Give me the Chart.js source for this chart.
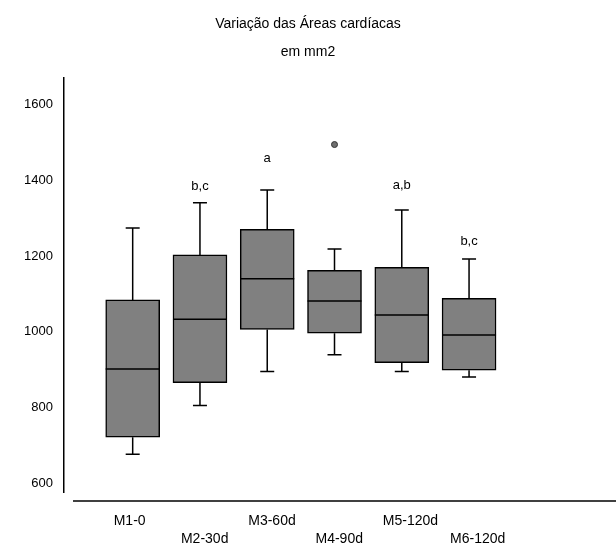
<!DOCTYPE html>
<html lang="pt">

<head>
   <meta charset="UTF-8">
   <title>Variação das Áreas cardíacas</title>
   <script src="https://cdn.jsdelivr.net/npm/chart.js@4.4.0/dist/chart.umd.min.js"></script>
   <style>
      body { margin: 0; background: #fff; }
      .chart-container { width: 616px; height: 545px; }
   </style>
</head>

<body>
   <div class="chart-container">
      <canvas id="myChart"></canvas>
   </div>
   <script>
      // values (mm2)
      const categories = ['M1-0', 'M2-30d', 'M3-60d', 'M4-90d', 'M5-120d', 'M6-120d'];
      const whiskerLow = [676, 805, 895, 939, 895, 880];
      const q1 = [721, 865, 1006, 996, 918, 898];
      const medians = [901, 1033, 1140, 1081, 1044, 991];
      const q3 = [1084, 1203, 1271, 1162, 1170, 1088];
      const whiskerHigh = [1274, 1341, 1375, 1219, 1322, 1192];
      const outliers = [{ x: 3, y: 1495 }];
      const letters = ['', 'b,c', 'a', '', 'a,b', 'b,c'];
      const letterValues = [null, 1384, 1459, null, 1386, 1240];
      const yTicks = [600, 800, 1000, 1200, 1400, 1600];

      const FONT = "'Liberation Sans', Arial, sans-serif";

      // whiskers, medians and the letters above the boxes
      const boxExtras = {
         id: 'boxExtras',
         afterDatasetsDraw(chart) {
            const ctx = chart.ctx;
            const y = chart.scales.y;
            const meta = chart.getDatasetMeta(0);
            ctx.save();
            ctx.strokeStyle = '#000';
            ctx.lineWidth = 1.5;
            meta.data.forEach((bar, i) => {
               const x = bar.x;
               const half = bar.width / 2;
               const cap = 7;
               ctx.beginPath();
               // median
               ctx.moveTo(x - half, y.getPixelForValue(medians[i]));
               ctx.lineTo(x + half, y.getPixelForValue(medians[i]));
               // upper whisker
               ctx.moveTo(x, y.getPixelForValue(q3[i]));
               ctx.lineTo(x, y.getPixelForValue(whiskerHigh[i]));
               ctx.moveTo(x - cap, y.getPixelForValue(whiskerHigh[i]));
               ctx.lineTo(x + cap, y.getPixelForValue(whiskerHigh[i]));
               // lower whisker
               ctx.moveTo(x, y.getPixelForValue(q1[i]));
               ctx.lineTo(x, y.getPixelForValue(whiskerLow[i]));
               ctx.moveTo(x - cap, y.getPixelForValue(whiskerLow[i]));
               ctx.lineTo(x + cap, y.getPixelForValue(whiskerLow[i]));
               ctx.stroke();

               if (letters[i]) {
                  ctx.fillStyle = '#000';
                  ctx.font = '13px ' + FONT;
                  ctx.textAlign = 'center';
                  ctx.textBaseline = 'middle';
                  ctx.fillText(letters[i], x, y.getPixelForValue(letterValues[i]));
               }
            });
            // detached x axis line, SPSS style
            const area = chart.chartArea;
            ctx.beginPath();
            ctx.moveTo(area.left + 9, area.bottom + 9);
            ctx.lineTo(chart.width, area.bottom + 9);
            ctx.stroke();
            ctx.restore();
         }
      };

      const config = {
         type: 'bar',
         data: {
            datasets: [{
               label: 'caixa',
               data: categories.map((c, i) => ({ x: i, y: [q1[i], q3[i]] })),
               backgroundColor: '#808080',
               borderColor: '#000',
               borderWidth: 1.5,
               borderSkipped: false,
               barThickness: 54
            }, {
               type: 'scatter',
               label: 'outlier',
               data: outliers,
               pointRadius: 3,
               pointBackgroundColor: '#6e6e6e',
               pointBorderColor: '#333',
               pointBorderWidth: 1
            }]
         },
         options: {
            responsive: true,
            maintainAspectRatio: false,
            animation: false,
            layout: { padding: 0 },
            plugins: {
               legend: { display: false },
               tooltip: { enabled: false },
               title: {
                  display: true,
                  text: ['Variação das Áreas cardíacas', 'em mm2'],
                  color: '#000',
                  font: { family: FONT, size: 14, weight: 'normal', lineHeight: 28 / 14 },
                  padding: { top: 10, bottom: 12 }
               }
            },
            scales: {
               x: {
                  type: 'linear',
                  position: 'bottom',
                  offset: false,
                  min: -1.021,
                  max: 7.11,
                  grid: { display: false, drawTicks: false },
                  border: { display: false },
                  afterBuildTicks: s => { s.ticks = categories.map((c, i) => ({ value: i })); },
                  afterFit: s => { s.height = 53; s.paddingLeft = 0; s.paddingRight = 0; },
                  ticks: {
                     align: 'start',
                     labelOffset: -19,
                     padding: 20,
                     color: '#000',
                     font: { family: FONT, size: 14, lineHeight: 1.3 },
                     maxRotation: 0,
                     autoSkip: false,
                     callback: v => (v % 2 === 0 ? [categories[v], ''] : ['', categories[v]])
                  }
               },
               y: {
                  min: 576,
                  max: 1671,
                  grid: { display: false, drawTicks: false },
                  border: { display: true, color: '#000', width: 1.5 },
                  afterBuildTicks: s => { s.ticks = yTicks.map(v => ({ value: v })); },
                  afterFit: s => { s.width = 64; },
                  ticks: {
                     padding: 11,
                     color: '#000',
                     font: { family: FONT, size: 13 },
                     callback: v => String(v)
                  }
               }
            }
         },
         plugins: [boxExtras]
      };

      const ctx = document.getElementById('myChart').getContext('2d');
      new Chart(ctx, config);
   </script>
</body>

</html>
